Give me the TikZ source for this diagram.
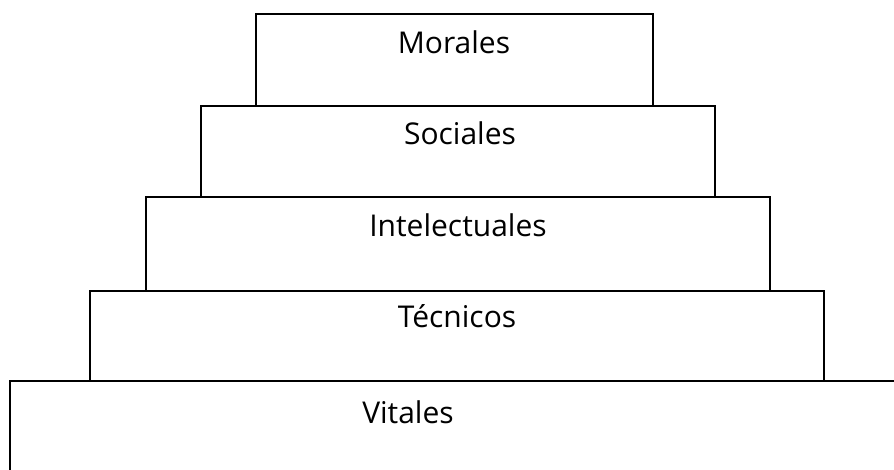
\documentclass[tikz,border=0pt]{standalone}
\usepackage{fontspec}
\setmainfont{Open Sans}
\begin{document}
\begin{tikzpicture}[x=1pt,y=-1pt,
  tier/.style={draw=black,line width=2.6pt,line join=miter},
  lbl/.style={font=\fontsize{30}{30}\selectfont,anchor=base,inner sep=0pt}]
\useasboundingbox[fill=white] (0,0) rectangle (894,470);
\draw[tier] (256,14) rectangle (653,106);
\draw[tier] (201,106) rectangle (715,197);
\draw[tier] (146,197) rectangle (770,291);
\draw[tier] (90,291) rectangle (824,381);
\draw[tier] (900,381) -- (10,381) -- (10,476);
\node[lbl] (morales) at (454,54) {Morales};
\node[lbl] (sociales) at (460,145) {Sociales};
\node[lbl] (intel) at (458,237) {Intelectuales};
\node[lbl] (tecnicos) at (457,327) {Técnicos};
\node[lbl] (vitales) at (408,423) {Vitales};
\end{tikzpicture}
\end{document}
